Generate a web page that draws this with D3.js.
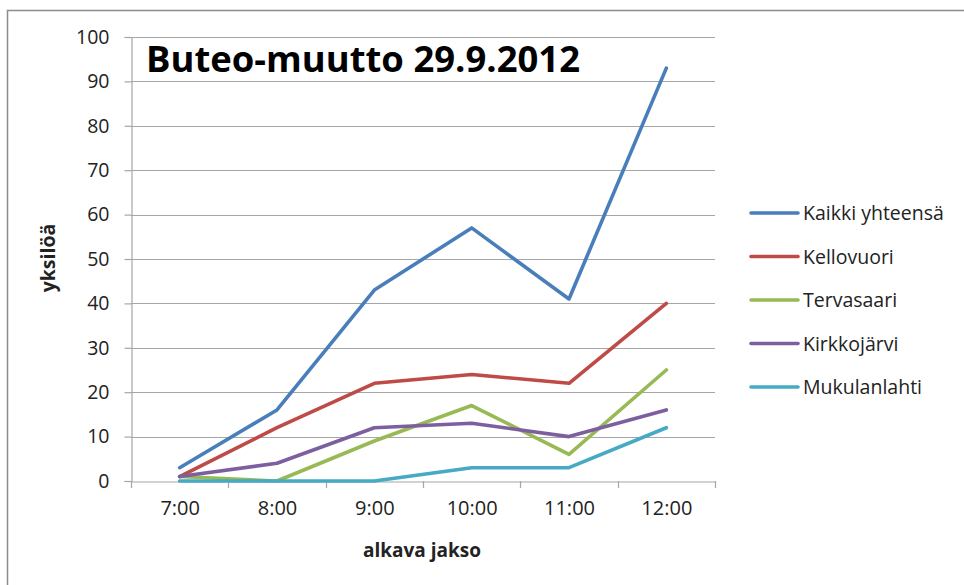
<!DOCTYPE html>
<html>
<head>
<meta charset="utf-8">
<script src="https://cdn.jsdelivr.net/npm/d3@7"></script>
<style>
body{margin:0;background:#fff;}
svg{display:block;}
</style>
</head>
<body>
<svg id="chart" width="964" height="585"></svg>
<script>
const categories = ["7:00","8:00","9:00","10:00","11:00","12:00"];
const seriesNames = ["Kaikki yhteensä","Kellovuori","Tervasaari","Kirkkojärvi","Mukulanlahti"];
const kaikki = [3,16,43,57,41,93];
const kellovuori = [1,12,22,24,22,40];
const tervasaari = [1,0,9,17,6,25];
const kirkkojarvi = [1,4,12,13,10,16];
const mukulanlahti = [0,0,0,3,3,12];
const yTicks = [0,10,20,30,40,50,60,70,80,90,100];
const colors = ["#4A7EBB","#BE4B48","#98B954","#7D5FA0","#46AAC5"];
const seriesValues = [kaikki,kellovuori,tervasaari,kirkkojarvi,mukulanlahti];

const font = "'Open Sans', sans-serif";
const svg = d3.select("#chart");

// outer frame
svg.append("path").attr("d","M7.5,590 V10.5 H970").attr("fill","none")
  .attr("stroke","#8c8c8c").attr("stroke-width",1.5);

const pLeft=131, pRight=715, pTop=37, pBottom=481;
const x = d3.scalePoint().domain(categories).range([pLeft,pRight]).padding(0.5);
const y = d3.scaleLinear().domain([0,100]).range([pBottom,pTop]);

// gridlines
svg.append("g").selectAll("line").data(yTicks.filter(d=>d>0)).join("line")
  .attr("x1",pLeft).attr("x2",pRight)
  .attr("y1",d=>Math.round(y(d))+0.5).attr("y2",d=>Math.round(y(d))+0.5)
  .attr("stroke","#a6a6a6").attr("stroke-width",1.2);

// y axis
const yAxis = svg.append("g").attr("transform",`translate(${pLeft+0.5},0)`)
  .call(d3.axisLeft(y).tickValues(yTicks).tickSize(7).tickPadding(15));
yAxis.select(".domain").attr("stroke","#a6a6a6").attr("stroke-width",1.2);
yAxis.selectAll(".tick line").attr("stroke","#a6a6a6").attr("stroke-width",1.2);
yAxis.selectAll(".tick text").attr("font-family",font).attr("font-size",19.5).attr("fill","#222");

// x axis
const xAxis = svg.append("g").attr("transform",`translate(0,${pBottom+0.5})`)
  .call(d3.axisBottom(x).tickSize(0).tickPadding(19));
xAxis.select(".domain").attr("stroke","#a6a6a6").attr("stroke-width",1.2);
xAxis.selectAll(".tick text").attr("font-family",font).attr("font-size",20).attr("fill","#222");
// category boundary tick marks
const step = x.step();
const bounds = d3.range(categories.length+1).map(i=>pLeft+i*step);
svg.append("g").selectAll("line").data(bounds).join("line")
  .attr("x1",d=>Math.round(d)+0.5).attr("x2",d=>Math.round(d)+0.5)
  .attr("y1",pBottom).attr("y2",pBottom+7)
  .attr("stroke","#a6a6a6").attr("stroke-width",1.2);

// lines
const line = d3.line().x((d,i)=>x(categories[i])).y(d=>y(d));
svg.append("g").selectAll("path").data(seriesValues).join("path")
  .attr("d",d=>line(d)).attr("fill","none")
  .attr("stroke",(d,i)=>colors[i]).attr("stroke-width",3.6)
  .attr("stroke-linejoin","round").attr("stroke-linecap","round");

// title
svg.append("text").attr("x",146).attr("y",72).text("Buteo-muutto 29.9.2012")
  .attr("font-family",font).attr("font-weight","bold").attr("font-size",36)
  .attr("fill","#000").attr("textLength",434).attr("lengthAdjust","spacingAndGlyphs");

// axis titles
svg.append("text").attr("transform","translate(55,258) rotate(-90)")
  .attr("text-anchor","middle").text("yksilöä")
  .attr("font-family",font).attr("font-weight","bold").attr("font-size",19.5).attr("fill","#222");
svg.append("text").attr("x",422).attr("y",557).attr("text-anchor","middle").text("alkava jakso")
  .attr("font-family",font).attr("font-weight","bold").attr("font-size",19).attr("fill","#222");

// legend
const lg = svg.append("g").selectAll("g").data(seriesNames).join("g")
  .attr("transform",(d,i)=>`translate(750,${213+i*43.5})`);
lg.append("line").attr("x1",1).attr("x2",48).attr("y1",0).attr("y2",0)
  .attr("stroke",(d,i)=>colors[i]).attr("stroke-width",3.6).attr("stroke-linecap","round");
lg.append("text").attr("x",53).attr("y",7).text(d=>d)
  .attr("font-family",font).attr("font-size",19.5).attr("fill","#222");
</script>
</body>
</html>
